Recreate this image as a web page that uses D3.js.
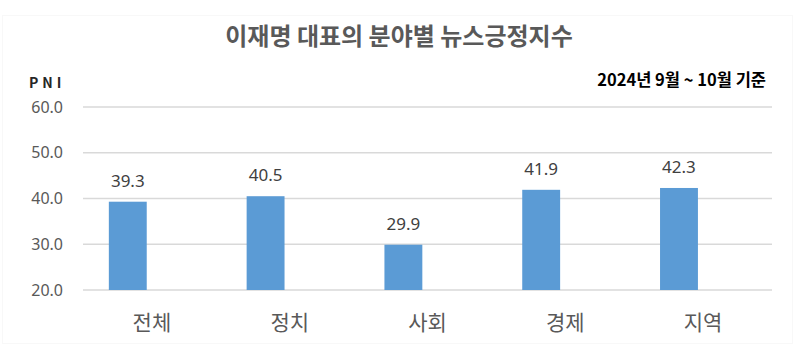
<!DOCTYPE html>
<html>
<head>
<meta charset="utf-8">
<script src="https://cdn.jsdelivr.net/npm/d3@7"></script>
<style>
  body { margin: 0; background: #fff; }
  svg { display: block; font-family: "Noto Sans CJK KR", "Noto Sans", sans-serif; }
</style>
</head>
<body>
<div id="chart"></div>
<script>
// data
let categories = ["전체", "정치", "사회", "경제", "지역"];
let values = [39.3, 40.5, 29.9, 41.9, 42.3];
let yTicks = [20, 30, 40, 50, 60];

let w = 800;
let h = 350;
let plotLeft = 83, plotRight = 772, plotTop = 107, plotBottom = 290;

let svg = d3.select("#chart")
    .append("svg")
    .attr("width", w)
    .attr("height", h)
    .attr("viewBox", "0 0 " + w + " " + h);

// faint frame
svg.append("rect")
    .attr("x", 2.5).attr("y", 15.5)
    .attr("width", w - 10).attr("height", h - 22)
    .attr("fill", "none")
    .attr("stroke", "#f8f8f8");

let xScale = d3.scaleBand().domain(categories).range([plotLeft, plotRight]);
let yScale = d3.scaleLinear().domain([20, 60]).range([plotBottom, plotTop]);

// gridlines
svg.append("g")
    .selectAll("line")
    .data(yTicks)
    .enter()
    .append("line")
    .attr("x1", plotLeft)
    .attr("x2", plotRight)
    .attr("y1", d => yScale(d))
    .attr("y2", d => yScale(d))
    .attr("stroke", "#d9d9d9")
    .attr("stroke-width", 1.5);

// y axis labels
let yAxis = d3.axisLeft(yScale).tickValues(yTicks).tickFormat(d3.format(".1f")).tickSize(0).tickPadding(20);
let yAxisGroup = svg.append("g")
    .attr("transform", "translate(" + plotLeft + ",0)")
    .call(yAxis);
yAxisGroup.select(".domain").remove();
yAxisGroup.selectAll("text")
    .attr("fill", "#595959")
    .style("font-size", "16px")
    .style("font-family", "'Noto Sans', sans-serif");

// bars sit left of the band centre (like an excel cluster)
let bw = xScale.bandwidth() * 0.275;
let barOffset = xScale.bandwidth() * 0.325;

svg.append("g")
    .selectAll("rect")
    .data(values)
    .enter()
    .append("rect")
    .attr("x", (d, i) => xScale(categories[i]) + barOffset - bw / 2)
    .attr("y", d => yScale(d))
    .attr("width", bw)
    .attr("height", d => yScale(20) - yScale(d))
    .attr("fill", "#5b9bd5");

// value labels
svg.append("g")
    .selectAll("text")
    .data(values)
    .enter()
    .append("text")
    .attr("x", (d, i) => xScale(categories[i]) + barOffset)
    .attr("y", d => yScale(d) - 15)
    .attr("text-anchor", "middle")
    .attr("fill", "#404040")
    .style("font-size", "17px")
    .style("font-family", "'Noto Sans', sans-serif")
    .text(d => d.toFixed(1));

// category labels
svg.append("g")
    .selectAll("text")
    .data(categories)
    .enter()
    .append("text")
    .attr("x", d => xScale(d) + xScale.bandwidth() / 2)
    .attr("y", 330)
    .attr("text-anchor", "middle")
    .attr("fill", "#595959")
    .style("font-size", "21px")
    .text(d => d);

// title
svg.append("text")
    .attr("x", 399)
    .attr("y", 45)
    .attr("text-anchor", "middle")
    .attr("fill", "#595959")
    .style("font-size", "24px")
    .style("font-weight", "bold")
    .text("이재명 대표의 분야별 뉴스긍정지수");

// PNI
svg.append("text")
    .attr("x", 29)
    .attr("y", 88)
    .attr("fill", "#262626")
    .style("font-size", "14px")
    .style("font-weight", "bold")
    .style("letter-spacing", "4px")
    .text("PNI");

// period note
svg.append("text")
    .attr("x", 766)
    .attr("y", 86)
    .attr("text-anchor", "end")
    .attr("fill", "#000")
    .style("font-size", "16.5px")
    .style("font-weight", "bold")
    .text("2024년 9월 ~ 10월 기준");
</script>
</body>
</html>
